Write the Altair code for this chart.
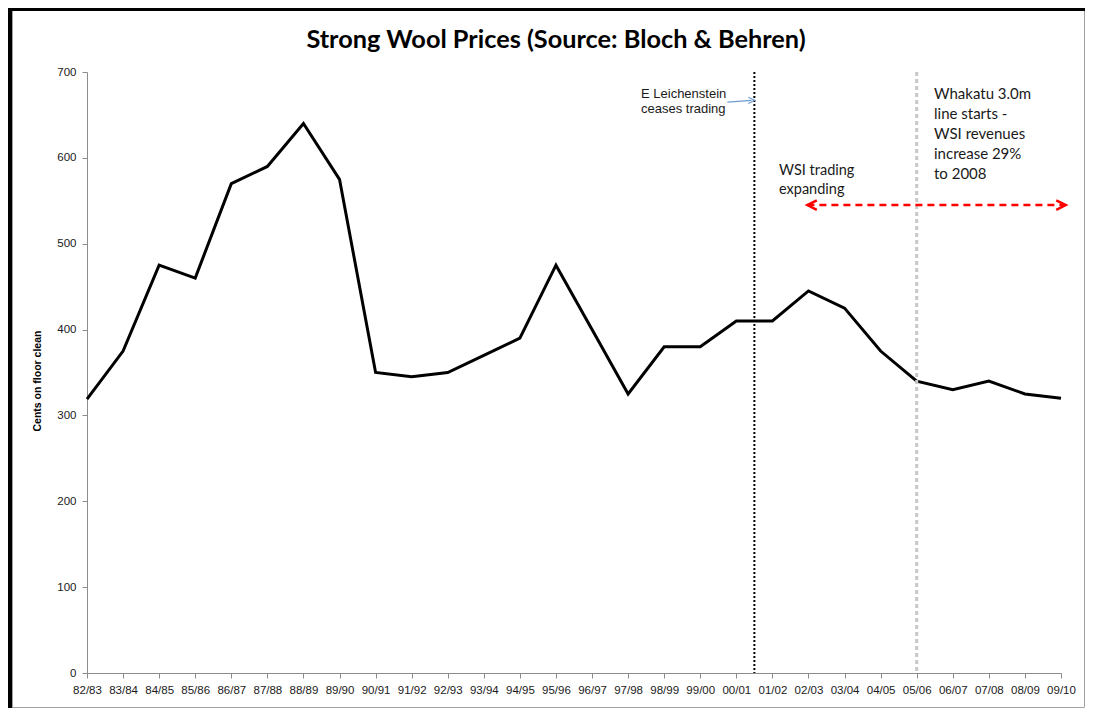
import altair as alt
import pandas as pd

seasons = ["82/83", "83/84", "84/85", "85/86", "86/87", "87/88", "88/89", "89/90",
           "90/91", "91/92", "92/93", "93/94", "94/95", "95/96", "96/97", "97/98",
           "98/99", "99/00", "00/01", "01/02", "02/03", "03/04", "04/05", "05/06",
           "06/07", "07/08", "08/09", "09/10"]
prices = [319, 375, 475, 460, 570, 590, 640, 575,
          350, 345, 350, 370, 390, 475, 400, 325,
          380, 380, 410, 410, 445, 425, 375, 340,
          330, 340, 325, 320]

event_leichenstein = 18.5   # between 00/01 and 01/02
event_whakatu = 23          # 05/06
arrow_start, arrow_end, arrow_level = 19.97, 27.05, 545
head_left, head_right = 20.1, 27.0
blue_arrow_x = [17.75, 18.42]
blue_arrow_y = [665, 667]

df = pd.DataFrame({"idx": list(range(len(seasons))), "season": seasons, "price": prices})

W, H = 974, 601
FONT = "Liberation Sans"
NARROW = "Liberation Sans Narrow, Liberation Sans, Arial"
CAL = "Lato, Open Sans, sans-serif"

label_arr = "[" + ",".join("'" + s + "'" for s in seasons) + "]"
xscale = alt.Scale(domain=[0, len(seasons) - 1], nice=False, zero=False)
yscale = alt.Scale(domain=[0, 700], nice=False)

x_axis = alt.Axis(values=list(range(len(seasons))), tickCount=len(seasons),
                  labelExpr=label_arr + "[datum.value]",
                  title=None, grid=False, labelAngle=0, labelFont=FONT, labelFontSize=11.5,
                  labelColor="#1a1a1a", domainColor="#8c8c8c", tickColor="#8c8c8c",
                  tickSize=5, labelPadding=6, labelFlush=False, labelOverlap=False,
                  labelBound=False)
y_axis = alt.Axis(values=[0, 100, 200, 300, 400, 500, 600, 700], title="Cents on floor clean",
                  grid=False, labelFont=FONT, labelFontSize=11.5, labelColor="#1a1a1a",
                  domainColor="#8c8c8c", tickColor="#8c8c8c", tickSize=5, labelPadding=6,
                  titleFont=NARROW, titleFontSize=10.5, titleFontWeight="bold",
                  titleColor="#000", titleX=-50, titleY=H / 2 + 8, titleAngle=-90,
                  titleAlign="center", titleBaseline="middle")


def X(field):
    return alt.X(field, type="quantitative", scale=xscale, axis=x_axis)


def Y(field):
    return alt.Y(field, type="quantitative", scale=yscale, axis=y_axis)


base = alt.Chart(df)

line = base.mark_line(color="black", strokeWidth=3, strokeJoin="miter").encode(
    x=X("idx"), y=Y("price"))

ev = pd.DataFrame({"idx": [event_leichenstein]})
ev2 = pd.DataFrame({"idx": [event_whakatu]})
black_rule = alt.Chart(ev).mark_rule(color="black", strokeWidth=2, strokeDash=[2, 2]).encode(
    x=X("idx"), y=alt.value(0), y2=alt.value(H))
gray_rule = alt.Chart(ev2).mark_rule(color="#c8c8c8", strokeWidth=3, strokeDash=[4, 3]).encode(
    x=X("idx"), y=alt.value(0), y2=alt.value(H))

arr = pd.DataFrame({"idx": [arrow_start], "idx2": [arrow_end], "price": [arrow_level]})
red_line = alt.Chart(arr).mark_rule(color="#ff0000", strokeWidth=2.5, strokeDash=[7, 5]).encode(
    x=X("idx"), x2="idx2:Q", y=Y("price"))
heads = pd.DataFrame({"idx": [head_left, head_right], "price": [arrow_level, arrow_level],
                      "dir": ["l", "r"]})
red_heads = alt.Chart(heads).mark_point(filled=False, color="#ff0000", strokeWidth=2.5,
                                        size=90, opacity=1).encode(
    x=X("idx"), y=Y("price"),
    shape=alt.Shape("dir:N", scale=alt.Scale(domain=["l", "r"],
                                             range=["M1,-1L-1,0L1,1", "M-1,-1L1,0L-1,1"]),
                    legend=None))

blue = pd.DataFrame({"idx": blue_arrow_x, "price": blue_arrow_y})
blue_line = alt.Chart(blue).mark_line(color="#6f9bd2", strokeWidth=1.2).encode(
    x=X("idx"), y=Y("price"))
blue_head = alt.Chart(blue.tail(1)).mark_point(filled=False, color="#6f9bd2", strokeWidth=1.2,
                                              size=40, opacity=1, shape="M-1,-1L1,0L-1,1").encode(
    x=X("idx"), y=Y("price"))

one = pd.DataFrame({"k": [0]})
title = alt.Chart(one).mark_text(text="Strong Wool Prices (Source: Bloch & Behren)",
                                 font=CAL, fontSize=25.3, fontWeight="bold", color="#000",
                                 align="center", baseline="alphabetic").encode(
    x=alt.value(469), y=alt.value(-24))

t1 = alt.Chart(one).mark_text(text=["E Leichenstein", "ceases trading"], font=FONT,
                              fontSize=13, lineHeight=15, align="left", baseline="top",
                              color="#1a1a1a").encode(x=alt.value(554), y=alt.value(16))
t2 = alt.Chart(one).mark_text(text=["WSI trading", "expanding"], font=CAL,
                              fontSize=14.5, lineHeight=19, align="left", baseline="top",
                              color="#1a1a1a").encode(x=alt.value(692), y=alt.value(92))
t3 = alt.Chart(one).mark_text(text=["Whakatu 3.0m", "line starts -", "WSI revenues",
                                    "increase 29%", "to 2008"], font=CAL,
                              fontSize=15, lineHeight=20, align="left", baseline="top",
                              color="#1a1a1a").encode(x=alt.value(847), y=alt.value(15))

fr_r = alt.Chart(one).mark_rule(color="#a0a0a0", strokeWidth=1).encode(
    x=alt.value(997.5), y=alt.value(-61), y2=alt.value(635))
fr_b = alt.Chart(one).mark_rule(color="#a0a0a0", strokeWidth=1).encode(
    x=alt.value(-75), x2=alt.value(997.5), y=alt.value(635.5))
fr_l = alt.Chart(one).mark_rule(color="#a0a0a0", strokeWidth=1).encode(
    x=alt.value(-74.5), y=alt.value(-61), y2=alt.value(635))
frame_left = alt.Chart(one).mark_rule(color="black", strokeWidth=4).encode(
    x=alt.value(-77), y=alt.value(-64), y2=alt.value(636))
frame_top = alt.Chart(one).mark_rule(color="black", strokeWidth=3).encode(
    x=alt.value(-79), x2=alt.value(998), y=alt.value(-62.5))

chart = alt.layer(line, black_rule, gray_rule, red_line, red_heads, blue_line, blue_head,
                  fr_r, fr_b, fr_l, frame_left, frame_top, title, t1, t2, t3).properties(
    width=W, height=H,
    autosize=alt.AutoSizeParams(type="none"),
    padding={"left": 79, "top": 64, "right": 24, "bottom": 35},
).configure(background="white").configure_view(stroke=None)

chart.save("out.html", embed_options={"renderer": "svg", "actions": False})
